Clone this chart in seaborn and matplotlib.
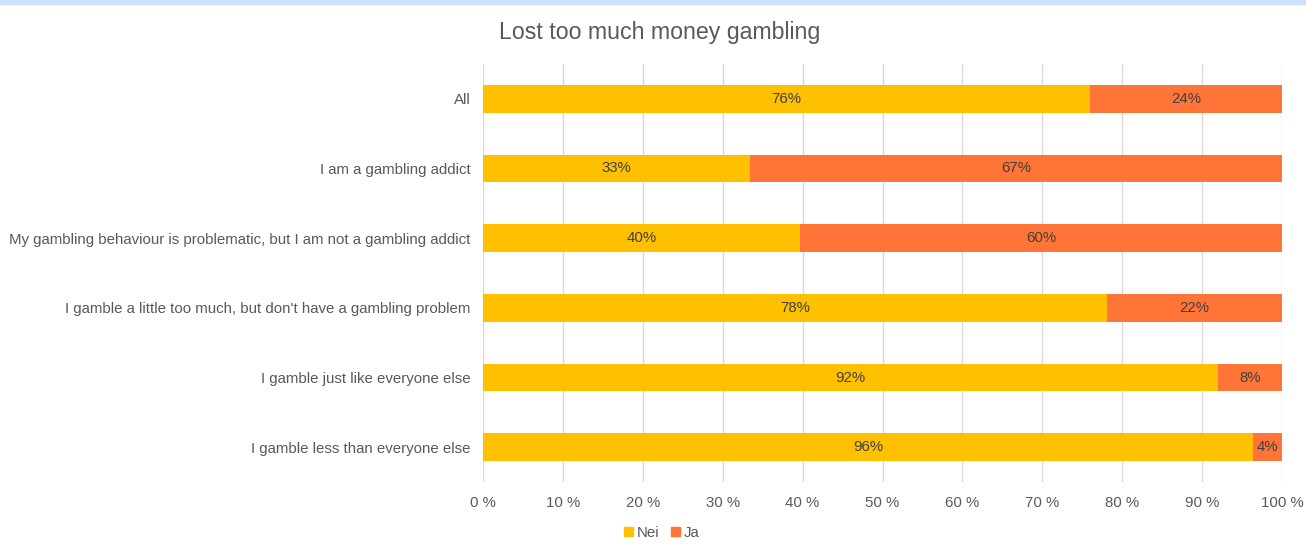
import matplotlib
matplotlib.use("Agg")
import matplotlib.pyplot as plt
from matplotlib.patches import Patch
import seaborn as sns
import pandas as pd

categories = [
    "All",
    "I am a gambling addict",
    "My gambling behaviour is problematic, but I am not a gambling addict",
    "I gamble a little too much, but don't have a gambling problem",
    "I gamble just like everyone else",
    "I gamble less than everyone else",
]
nei = [76.0, 33.4, 39.7, 78.1, 92.0, 96.4]
ja = [24.0, 66.6, 60.3, 21.9, 8.0, 3.6]
series_names = ["Nei", "Ja"]
x_ticks = list(range(0, 101, 10))

NEI_COLOR = "#FFC000"
JA_COLOR = "#FF7538"
TEXT = "#595959"
LABEL_TEXT = "#404040"
FS = 10.8

sns.set_theme(style="white")
plt.rcParams["font.family"] = ["Liberation Sans", "DejaVu Sans"]

df = pd.DataFrame({"category": categories, "nei": nei, "ja": ja})
df["total"] = df["nei"] + df["ja"]

fig = plt.figure(figsize=(13.06, 5.52), dpi=100)
ax = fig.add_axes([483 / 1306, 1 - 482 / 552, (1282 - 483) / 1306, (482 - 64) / 552])

# stacked horizontal bars: full total in Ja colour, Nei drawn over it
sns.barplot(data=df, y="category", x="total", color=JA_COLOR, width=0.4,
            orient="h", ax=ax, saturation=1, linewidth=0, zorder=2)
sns.barplot(data=df, y="category", x="nei", color=NEI_COLOR, width=0.4,
            orient="h", ax=ax, saturation=1, linewidth=0, zorder=3)

for i, (n, j) in enumerate(zip(nei, ja)):
    ax.text(n / 2, i, f"{n:.0f}%", ha="center", va="center", fontsize=FS, color=LABEL_TEXT, zorder=4)
    ax.text(n + j / 2, i, f"{j:.0f}%", ha="center", va="center", fontsize=FS, color=LABEL_TEXT, zorder=4)

ax.set_xlim(0, 100)
ax.set_ylim(len(categories) - 0.5, -0.5)
ax.set_xticks(x_ticks)
ax.set_xticklabels([f"{t} %" for t in x_ticks])
ax.grid(axis="x", color="#d9d9d9", linewidth=1, zorder=0)
ax.set_axisbelow(True)
for s in ax.spines.values():
    s.set_visible(False)
ax.set_xlabel("")
ax.set_ylabel("")
ax.tick_params(axis="both", length=0, labelsize=FS, colors=TEXT)
ax.tick_params(axis="y", pad=9)
ax.tick_params(axis="x", pad=10)

fig.text(660 / 1306, 1 - 33 / 552, "Lost too much money gambling", ha="center", va="center",
         fontsize=16.7, color=TEXT)

handles = [Patch(color=NEI_COLOR), Patch(color=JA_COLOR)]
fig.legend(handles, series_names, loc="center", bbox_to_anchor=(662 / 1306, 1 - 533 / 552),
           ncol=2, frameon=False, fontsize=FS, handlelength=0.6, handleheight=0.6,
           handletextpad=0.25, columnspacing=0.8, labelcolor=TEXT)

# thin accent strip along the top edge
fig.patches.append(plt.Rectangle((0, 1 - 4 / 552), 1, 4 / 552, transform=fig.transFigure,
                                 color="#cfe0fc", zorder=10))

fig.savefig("out.png", dpi=100)
